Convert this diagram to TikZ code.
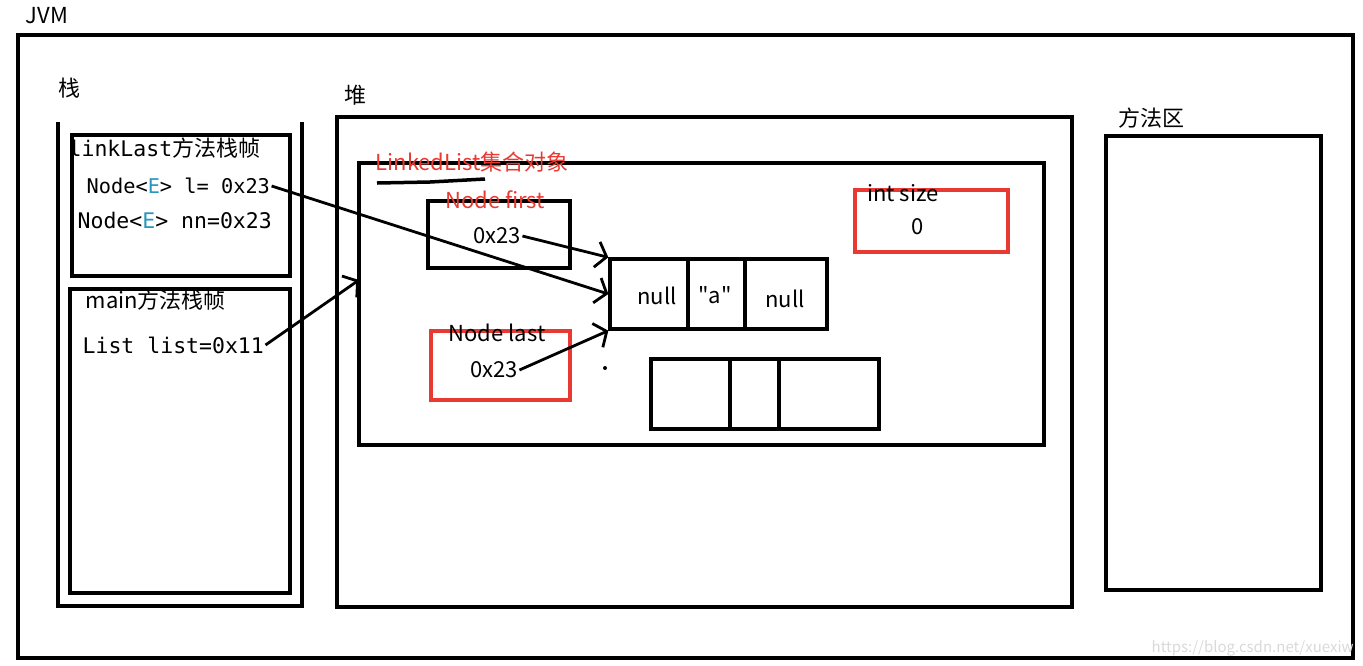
\documentclass[tikz,border=0pt]{standalone}
\usepackage{fontspec}
\newfontfamily\cjk{Noto Sans CJK SC}
\setmonofont{DejaVu Sans Mono}
\usetikzlibrary{fit}
\usetikzlibrary{arrows.meta}
\definecolor{memred}{RGB}{232,58,50}
\definecolor{gentype}{RGB}{40,150,190}

\begin{document}
\begin{tikzpicture}[x=1pt, y=-1pt, line width=3.3pt,
	every node/.style={font=\cjk\fontsize{22}{26}\selectfont, inner sep=0pt},
	box/.style={draw, inner sep=0pt},
	redbox/.style={draw=memred, inner sep=0pt},
	code/.style={font=\ttfamily\fontsize{21.5}{26}\selectfont},
	ref/.style={-{Straight Barb[length=10pt,width=26pt]}, line width=2.8pt}]
	\useasboundingbox (0,0) rectangle (1363,665);

	\node[anchor=west] (jvmlabel) at (24,16) {JVM};						% outer frame
	\node[box, fit={(18,35) (1353,658)}] (jvm) {};

	\node[anchor=west] (stacklabel) at (57,88) {栈};					% stack
	\draw (58,122) -- (58,606) -- (302,606) -- (302,122);
	\node[box, fit={(72,135) (290,276)}] (linklast) {};
	\node[anchor=west] (linklastname) at (67,148) {{\ttfamily\fontsize{21.5}{26}\selectfont linkLast}方法栈帧};
	\node[code, anchor=west, font=\ttfamily\fontsize{20.3}{26}\selectfont] (lvar) at (85,186) {Node<\textcolor{gentype}{E}> l= 0x23};
	\node[code, anchor=west] (nnvar) at (76,220) {Node<\textcolor{gentype}{E}> nn=0x23};
	\node[box, fit={(70,289) (290,593)}] (mainframe) {};
	\node[anchor=west] (mainname) at (84,300) {main方法栈帧};
	\node[code, anchor=west] (listvar) at (81,345) {List list=0x11};

	\node[anchor=west] (heaplabel) at (343,95) {堆};					% heap
	\node[box, fit={(337,117) (1072,607)}] (heap) {};
	\node[box, fit={(359,163) (1044,445)}] (listobj) {};
	\node[anchor=west, text=memred] (listname) at (374,162) {LinkedList集合对象};
	\draw[line width=3.5pt] (377,183) -- (430,182) -- (485,179);

	\node[box, fit={(428,201) (570,268)}] (first) {};					% fields
	\node[text=memred] (firstname) at (495,200) {Node first};
	\node (firstval) at (497,236) {0x23};
	\node[redbox, fit={(431,331) (570,400)}] (last) {};
	\node (lastname) at (497,333) {Node last};
	\node (lastval) at (494,370) {0x23};
	\node[redbox, fit={(855,190) (1008,252)}] (size) {};
	\node (sizename) at (903,193) {int size};
	\node (sizeval) at (918,227) {0};

	\node[box, fit={(610,259) (827,329)}] (nodeobj) {};				% Node objects
	\draw (688,259) -- (688,329);
	\draw (745,259) -- (745,329);
	\node (prevval) at (657,296) {null};
	\node (itemval) at (715,295) {"a"};
	\node (nextval) at (785,299) {null};
	\node[box, fit={(651,359) (879,429)}] (nodeobjb) {};
	\draw (730,359) -- (730,429);
	\draw (779,359) -- (779,429);
	\fill (605,368) circle (2pt);

	\node[anchor=west] (methodlabel) at (1117,118) {方法区};			% method area
	\node[box, fit={(1106,136) (1321,590)}] (method) {};

	\coordinate (objin) at (359,280);
	\draw[ref] (lvar.east) -- (nodeobj.west);						% pointers
	\draw[ref] (firstval.east) -- (nodeobj.north west);
	\draw[ref] (lastval.east) -- (nodeobj.south west);
	\draw[ref] (listvar.east) -- (objin);

	\node[anchor=west, text=gray!30, font=\cjk\fontsize{15}{18}\selectfont] (mark) at (1150,648) {https://blog.csdn.net/xuexiw};
\end{tikzpicture}
\end{document}
